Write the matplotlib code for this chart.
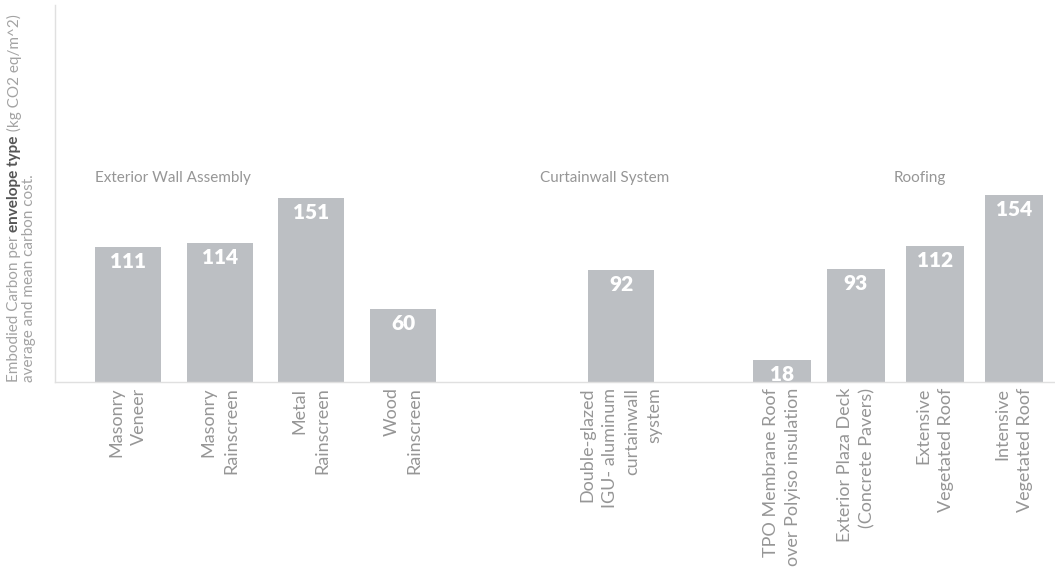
import matplotlib.pyplot as plt

plt.rcParams['font.family'] = ['Lato', 'DejaVu Sans']

categories = [
    "Masonry\nVeneer",
    "Masonry\nRainscreen",
    "Metal\nRainscreen",
    "Wood\nRainscreen",
    "Double-glazed\nIGU- aluminum\ncurtainwall\nsystem",
    "TPO Membrane Roof\nover Polyiso insulation",
    "Exterior Plaza Deck\n(Concrete Pavers)",
    "Extensive\nVegetated Roof",
    "Intensive\nVegetated Roof",
]
carbon = [111, 114, 151, 60, 92, 18, 93, 112, 154]
groups = ["Exterior Wall Assembly", "Curtainwall System", "Roofing"]

# layout: bar centres / widths along a 0-1000 axis
x_pos = [73, 165, 256, 348, 566, 727, 801, 880, 959]
widths = [66, 66, 66, 66, 66, 58, 58, 58, 58]
group_x = [40, 550, 865]
group_ha = ['left', 'center', 'center']

bar_color = '#bcbfc3'
text_gray = '#969696'
line_gray = '#e0e0e0'

fig = plt.figure(figsize=(10.55, 5.71), dpi=100)
ax = fig.add_axes([55 / 1055, 189 / 571, 1000 / 1055, 377 / 571])
ax.set_xlim(0, 1000)
ax.set_ylim(0, 310)

ax.bar(x_pos, carbon, width=widths, color=bar_color, zorder=2)

for x, v in zip(x_pos, carbon):
    ax.annotate(str(v), (x, v), xytext=(0, -3.5), textcoords='offset points',
                ha='center', va='top', color='white', fontsize=15,
                fontweight='heavy', zorder=3)

for x, lab in zip(x_pos, categories):
    ax.annotate(lab, (x, 0), xytext=(0, -4), textcoords='offset points',
                ha='center', va='top', rotation=90, multialignment='right',
                color=text_gray, fontsize=13, linespacing=1.5,
                annotation_clip=False)

for g, gx, ha in zip(groups, group_x, group_ha):
    ax.text(gx, 168, g, ha=ha, va='center', color=text_gray, fontsize=11)

for side in ['top', 'right']:
    ax.spines[side].set_visible(False)
for side in ['left', 'bottom']:
    ax.spines[side].set_color(line_gray)
    ax.spines[side].set_linewidth(1)
ax.set_xticks([])
ax.set_yticks([])

# y-axis caption, first line has a bold run in the middle
cap = dict(rotation=90, ha='center', va='bottom', color='#a3a3a3',
           fontsize=11)
t1 = fig.text(14 / 1055, 189 / 571, "Embodied Carbon per ", **cap)
t2 = fig.text(0, 0, "envelope type", rotation=90, ha='center', va='bottom',
              color='#555555', fontsize=11, fontweight='bold')
t3 = fig.text(0, 0, " (kg CO2 eq/m^2)", **cap)
fig.text(29 / 1055, 189 / 571, "average and mean carbon cost.", **cap)

fig.canvas.draw()
r = fig.canvas.get_renderer()
inv = fig.transFigure.inverted()
b1 = t1.get_window_extent(r)
t2.set_position(inv.transform((b1.x0 + b1.width / 2, b1.y1)))
fig.canvas.draw()
b2 = t2.get_window_extent(r)
t3.set_position(inv.transform((b1.x0 + b1.width / 2, b2.y1)))

fig.savefig('out.png', dpi=100)
